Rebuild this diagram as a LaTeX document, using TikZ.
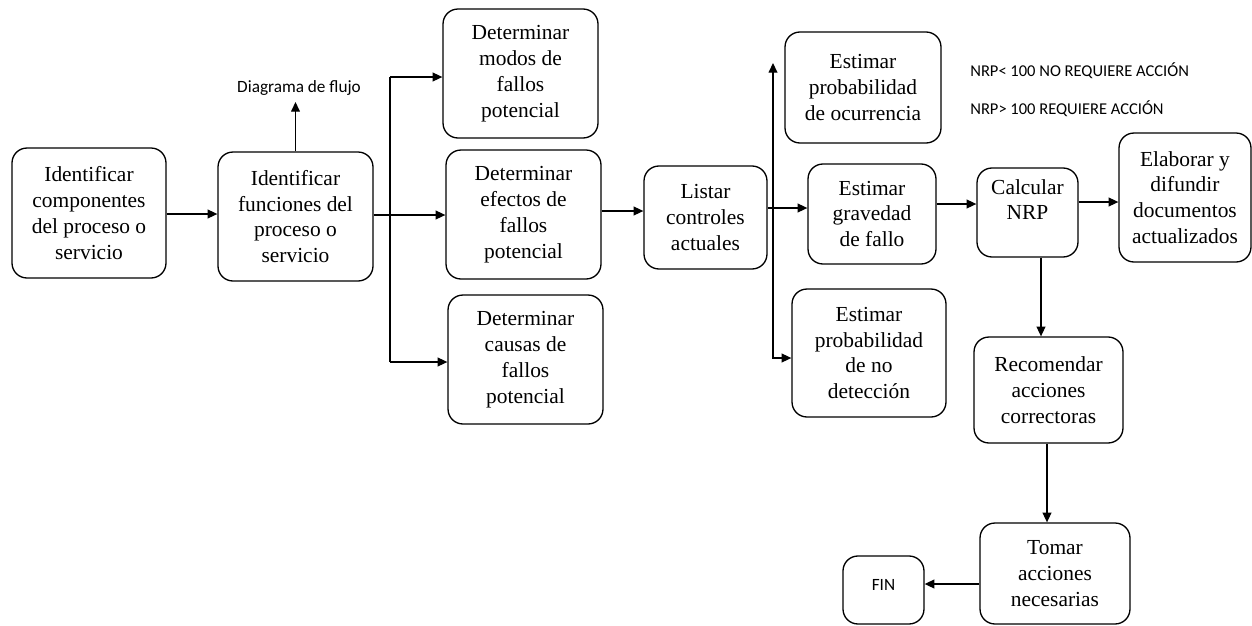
\documentclass[tikz,border=0pt]{standalone}
\usepackage{fontspec}
\setmainfont{Liberation Serif}
\newfontfamily\calib{Carlito}
\usetikzlibrary{arrows.meta}
\begin{document}
\begin{tikzpicture}[x=0.02cm,y=-0.02cm,
  box/.style={draw,line width=0.75pt,rounded corners=8.5pt,align=center,inner sep=1pt,
    font=\fontsize{12.2}{14.7}\selectfont},
  arr/.style={line width=0.75pt,-{Triangle[length=5.5pt,width=5pt]}},
  ln/.style={line width=0.75pt},
  lbl/.style={font=\calib\fontsize{9.8}{11}\selectfont,inner sep=0pt}]
\useasboundingbox (0,0) rectangle (1252,626);
% boxes
\node[box,minimum width=3.08cm,minimum height=2.6cm] (b1) at (89,213) {Identificar\\componentes\\del proceso o\\servicio};
\node[box,minimum width=3.1cm,minimum height=2.58cm] (b2) at (295.5,216.5) {Identificar\\funciones del\\proceso o\\servicio};
\node[box,minimum width=3.1cm,minimum height=2.58cm] (modos) at (520.5,73.5) {Determinar\\modos de\\fallos\\potencial};
\node[box,minimum width=3.1cm,minimum height=2.58cm] (efectos) at (523.5,214.5) {Determinar\\efectos de\\fallos\\potencial};
\node[box,minimum width=3.1cm,minimum height=2.58cm] (causas) at (525.5,359.5) {Determinar\\causas de\\fallos\\potencial};
\node[box,minimum width=2.46cm,minimum height=2.06cm] (listar) at (705.5,217.5) {Listar\\controles\\actuales};
\node[box,minimum width=3.12cm,minimum height=2.22cm] (ocur) at (863,87.5) {Estimar\\probabilidad\\de ocurrencia};
\node[box,minimum width=2.56cm,minimum height=2.0cm] (grav) at (872,214) {Estimar\\gravedad\\de fallo};
\node[box,minimum width=3.08cm,minimum height=2.56cm] (nodet) at (869,353) {Estimar\\probabilidad\\de no\\detección};
\node[box,minimum width=2.02cm,minimum height=1.78cm] (calc) at (1027.5,212.5) {Calcular\\NRP\\[0pt]};
\node[box,minimum width=2.64cm,minimum height=2.58cm] (elab) at (1185,197.5) {Elaborar y\\difundir\\documentos\\actualizados};
\node[box,minimum width=2.98cm,minimum height=2.12cm] (recom) at (1048.5,390) {Recomendar\\acciones\\correctoras};
\node[box,minimum width=3.0cm,minimum height=2.02cm] (tomar) at (1055,573.5) {Tomar\\acciones\\necesarias};
\node[box,minimum width=1.62cm,minimum height=1.36cm,font=\calib\fontsize{9.8}{11}\selectfont] (fin) at (883.5,590) {FIN\\[-5pt]};
% labels
\node[lbl] (diag) at (299,88) {Diagrama de flujo};
\node[lbl,anchor=west,font=\calib\fontsize{9.4}{11}\selectfont] (nrp1) at (970,71) {NRP< 100 NO REQUIERE ACCIÓN};
\node[lbl,anchor=west,font=\calib\fontsize{9.4}{11}\selectfont] (nrp2) at (970,109) {NRP> 100 REQUIERE ACCIÓN};
% coordinates
\coordinate (ja) at (390,77);
\coordinate (jb) at (390,362);
\coordinate (jt) at (773,63);
\coordinate (jm) at (773,208);
\coordinate (jd) at (773,358);
% connectors
\draw[arr] (b1.east |- 0,214) -- (b2.west |- 0,214);
\draw[arr] (b2.north) -- (b2.north |- 0,102);
\draw[arr] (b2.east |- 0,215) -- (efectos.west |- 0,215);
\draw[ln] (jb) -- (ja);
\draw[arr] (ja) -- (modos.west |- ja);
\draw[arr] (jb) -- (causas.west |- jb);
\draw[arr] (efectos.east |- 0,211) -- (listar.west |- 0,211);
\draw[arr] (listar.east |- jm) -- (grav.west |- jm);
\draw[arr] (jm) -- (jt);
\draw[arr] (jm) -- (jd) -- (nodet.west |- jd);
\draw[arr] (grav.east |- 0,204) -- (calc.west |- 0,204);
\draw[arr] (calc.east |- 0,202) -- (elab.west |- 0,202);
\draw[arr] (calc.south -| 1041,0) -- (recom.north -| 1041,0);
\draw[arr] (recom.south -| 1047,0) -- (tomar.north -| 1047,0);
\draw[arr] (tomar.west |- 0,584) -- (fin.east |- 0,584);
\end{tikzpicture}
\end{document}
